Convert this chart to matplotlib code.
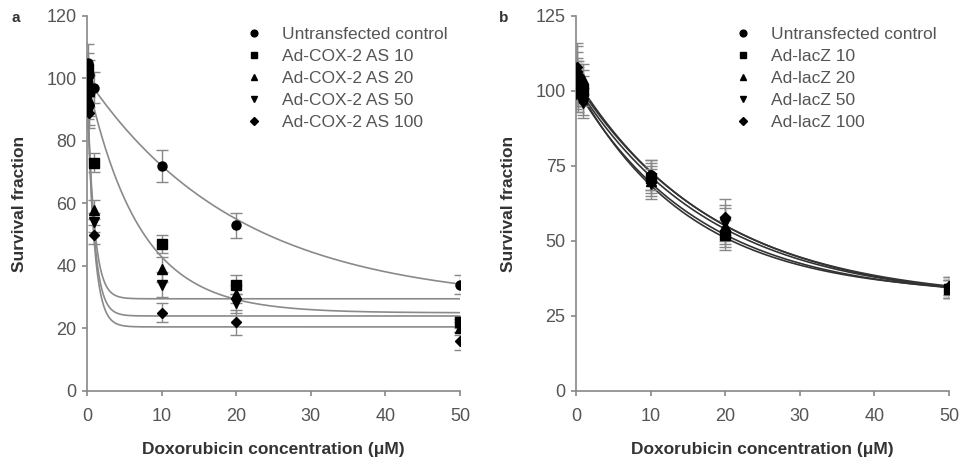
import numpy as np
import matplotlib
matplotlib.use("Agg")
import matplotlib.pyplot as plt

plt.rcParams['font.family'] = ['Liberation Sans', 'DejaVu Sans']

# doxorubicin concentrations (uM)
conc = [0, 0.1, 0.25, 1, 10, 20, 50]
markers = ['o', 's', '^', 'v', 'D']

# panel a: Ad-COX-2 antisense
labels_a = ['Untransfected control', 'Ad-COX-2 AS 10', 'Ad-COX-2 AS 20',
            'Ad-COX-2 AS 50', 'Ad-COX-2 AS 100']
surv_a = [
    [100, 105, 101, 97, 72, 53, 34],
    [99, 103, 96, 73, 47, 34, 22],
    [98, 97, 93, 58, 39, 31, 20],
    [96, 94, 90, 54, 34, 28, 21],
    [95, 92, 89, 50, 25, 22, 16],
]
err_a = [
    [5, 6, 5, 5, 5, 4, 3],
    [5, 5, 5, 3, 3, 3, 2],
    [5, 5, 5, 3, 4, 3, 2],
    [5, 5, 5, 3, 4, 3, 2],
    [5, 5, 5, 3, 3, 4, 3],
]
# fitted exponential decay: plateau + (top - plateau) * exp(-k x)
plateau_a = [28, 25, 29.5, 24, 20.5]
top_a = [100, 100, 100, 100, 100]
rate_a = [0.049, 0.143, 1.1, 1.1, 1.1]

# panel b: Ad-lacZ
labels_b = ['Untransfected control', 'Ad-lacZ 10', 'Ad-lacZ 20',
            'Ad-lacZ 50', 'Ad-lacZ 100']
surv_b = [
    [101, 106, 103, 97, 72, 53, 34],
    [100, 104, 101, 100, 71, 52, 34],
    [102, 107, 102, 104, 70, 55, 35],
    [99, 105, 99, 96, 69, 56, 34],
    [103, 108, 104, 102, 72, 58, 35],
]
err_b = [
    [6, 7, 6, 5, 5, 5, 3],
    [6, 6, 6, 5, 5, 5, 3],
    [7, 8, 6, 5, 5, 6, 3],
    [6, 6, 6, 5, 5, 6, 3],
    [7, 8, 6, 5, 5, 6, 3],
]
plateau_b = [30, 32, 29, 31, 30]
top_b = [102, 102, 103, 101, 104]
rate_b = [0.055, 0.065, 0.052, 0.06, 0.054]

fig = plt.figure(figsize=(9.61, 4.66), dpi=100)
fig.patch.set_facecolor('white')
ax_a = fig.add_axes([0.0905, 0.161, 0.3881, 0.8047])
ax_b = fig.add_axes([0.5994, 0.161, 0.3881, 0.8047])

xs = np.linspace(0, 50, 500)


def draw_panel(ax, surv, err, plateau, top, rate, labels, ymax, ystep, curve_col):
    for i in range(5):
        fit = plateau[i] + (top[i] - plateau[i]) * np.exp(-rate[i] * xs)
        ax.plot(xs, fit, color=curve_col, lw=1.2, zorder=2)
    for i in range(5):
        ax.errorbar(conc, surv[i], yerr=err[i], fmt=markers[i], color='black',
                    ms=6.5 if markers[i] != 'D' else 5.5, ecolor='#888888',
                    elinewidth=1, capsize=4, capthick=1, zorder=3,
                    label=labels[i])
    ax.set_xlim(0, 50)
    ax.set_ylim(0, ymax)
    ax.set_xticks(range(0, 51, 10))
    ax.set_yticks(range(0, ymax + 1, ystep))
    for s in ['top', 'right']:
        ax.spines[s].set_visible(False)
    for s in ['left', 'bottom']:
        ax.spines[s].set_color('#888888')
        ax.spines[s].set_linewidth(1.2)
    ax.tick_params(colors='#888888', labelcolor='#555555', labelsize=13,
                   length=3.5, width=1.2)
    ax.tick_params(axis='x', pad=9)
    ax.tick_params(axis='y', pad=4)
    ax.set_xlabel('Doxorubicin concentration (μM)', fontsize=12.5,
                  fontweight='bold', color='#333333', labelpad=12)
    ax.set_ylabel('Survival fraction', fontsize=12.5, fontweight='bold',
                  color='#333333', labelpad=14)
    h, l = ax.get_legend_handles_labels()
    h = [x[0] for x in h]
    leg = ax.legend(h, l, loc='upper left', bbox_to_anchor=(0.425, 0.972),
                    frameon=False, fontsize=12.5, handlelength=1.0,
                    handletextpad=1.1, labelspacing=0.4, borderpad=0,
                    borderaxespad=0, markerscale=0.75)
    for t in leg.get_texts():
        t.set_color('#555555')


draw_panel(ax_a, surv_a, err_a, plateau_a, top_a, rate_a, labels_a, 120, 20, '#8a8a8a')
draw_panel(ax_b, surv_b, err_b, plateau_b, top_b, rate_b, labels_b, 125, 25, '#333333')

fig.text(0.012, 0.952, 'a', fontsize=11, fontweight='bold', color='#333333')
fig.text(0.519, 0.952, 'b', fontsize=11, fontweight='bold', color='#333333')

fig.savefig('out.png', dpi=100, facecolor='white')
